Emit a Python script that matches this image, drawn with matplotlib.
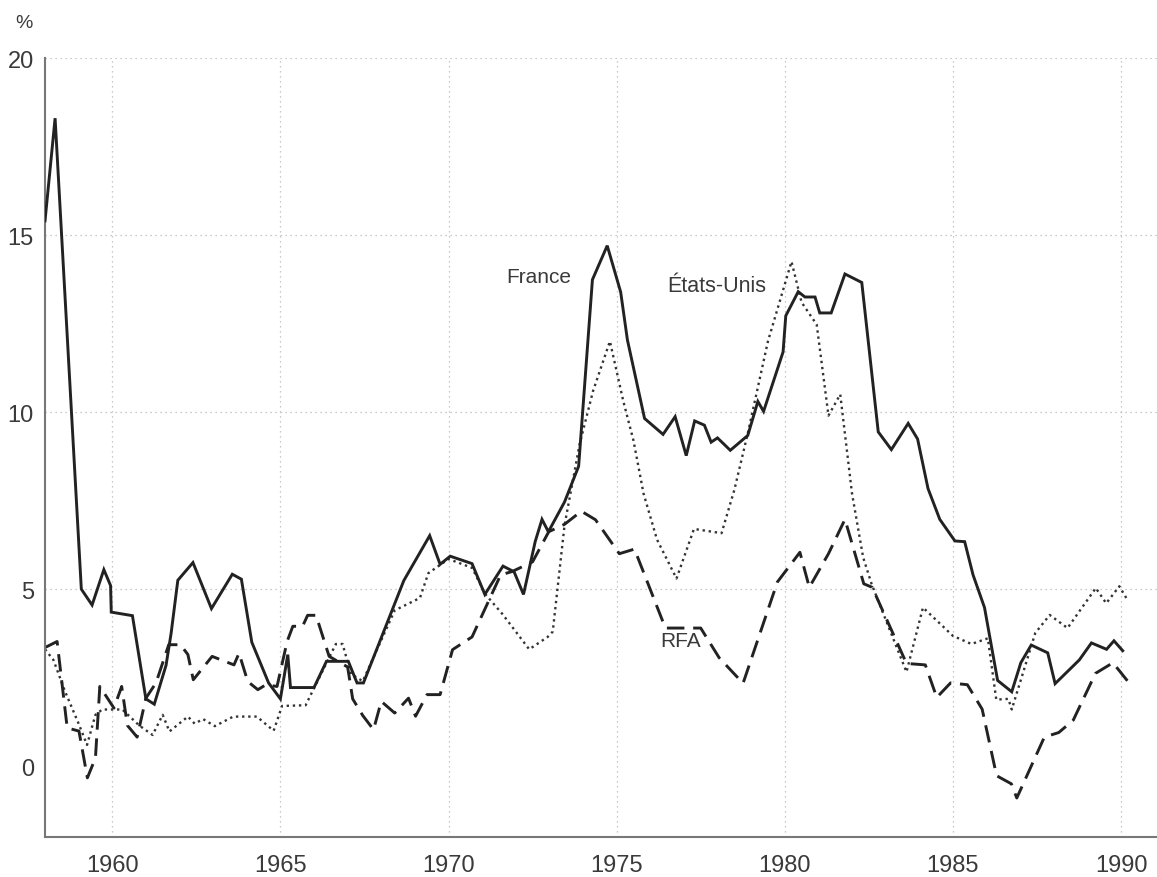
import matplotlib
matplotlib.use("Agg")
import matplotlib.pyplot as plt

plt.rcParams['font.family'] = ['Liberation Sans', 'DejaVu Sans']

# ---- data ----
france_years = [1958.0, 1958.3, 1959.08, 1959.4, 1959.75, 1959.95, 1959.97, 1960.6, 1961.0, 1961.25,
                1961.6, 1961.75, 1961.95, 1962.4, 1962.95, 1963.57, 1963.84, 1964.15, 1964.65, 1965.0,
                1965.22, 1965.3, 1966.0, 1966.37, 1967.02, 1967.28, 1967.47, 1968.67, 1969.44, 1969.75,
                1970.05, 1970.7, 1971.08, 1971.62, 1971.95, 1972.23, 1972.58, 1972.78, 1972.97, 1973.45,
                1973.87, 1974.28, 1974.72, 1975.12, 1975.32, 1975.83, 1976.38, 1976.74, 1977.07, 1977.32,
                1977.61, 1977.81, 1978.0, 1978.38, 1978.9, 1979.2, 1979.37, 1979.95, 1980.03, 1980.4,
                1980.6, 1980.9, 1981.04, 1981.38, 1981.79, 1982.29, 1982.78, 1983.17, 1983.67, 1983.95,
                1984.26, 1984.61, 1985.06, 1985.35, 1985.6, 1985.94, 1986.33, 1986.75, 1987.02, 1987.33,
                1987.82, 1988.04, 1988.76, 1989.12, 1989.57, 1989.79, 1990.05]
france_values = [15.4, 18.3, 5.0, 4.55, 5.55, 5.1, 4.35, 4.25, 1.9, 1.75,
                 2.85, 3.75, 5.25, 5.75, 4.45, 5.42, 5.28, 3.5, 2.35, 1.9,
                 3.15, 2.22, 2.22, 2.96, 2.96, 2.35, 2.35, 5.24, 6.51, 5.7,
                 5.93, 5.72, 4.85, 5.65, 5.49, 4.85, 6.35, 6.97, 6.62, 7.46,
                 8.47, 13.74, 14.7, 13.39, 12.04, 9.82, 9.37, 9.87, 8.77, 9.75,
                 9.63, 9.15, 9.27, 8.92, 9.34, 10.3, 10.02, 11.7, 12.72, 13.4,
                 13.25, 13.25, 12.8, 12.8, 13.9, 13.66, 9.44, 8.94, 9.68, 9.24,
                 7.84, 6.97, 6.36, 6.34, 5.4, 4.48, 2.42, 2.1, 2.92, 3.42,
                 3.2, 2.33, 3.0, 3.48, 3.3, 3.54, 3.26]

usa_years = [1958.0, 1958.25, 1958.6, 1959.0, 1959.25, 1959.5, 1959.7, 1960.3, 1960.8, 1961.2,
             1961.5, 1961.7, 1962.25, 1962.45, 1962.7, 1963.05, 1963.6, 1964.3, 1964.8, 1965.05,
             1965.75, 1966.0, 1966.65, 1966.85, 1967.1, 1967.45, 1968.4, 1969.15, 1969.4, 1969.7,
             1970.0, 1970.7, 1971.1, 1971.6, 1972.0, 1972.4, 1972.95, 1973.1, 1973.45, 1973.9,
             1974.3, 1974.8, 1975.2, 1975.5, 1975.8, 1976.2, 1976.78, 1977.3, 1978.12, 1978.5,
             1978.9, 1979.5, 1980.2, 1980.5, 1980.95, 1981.3, 1981.65, 1982.0, 1982.33, 1982.58,
             1983.08, 1983.62, 1984.11, 1985.0, 1985.55, 1986.04, 1986.29, 1986.65, 1986.75, 1987.45,
             1987.88, 1988.41, 1989.25, 1989.56, 1989.95, 1990.2]
usa_values = [3.3, 3.0, 2.1, 1.2, 0.6, 1.45, 1.6, 1.6, 1.15, 0.88,
              1.45, 0.98, 1.4, 1.2, 1.33, 1.13, 1.4, 1.4, 1.0, 1.7,
              1.72, 2.2, 3.45, 3.45, 2.6, 2.4, 4.4, 4.75, 5.45, 5.65,
              5.85, 5.6, 4.85, 4.3, 3.8, 3.3, 3.65, 3.8, 6.8, 9.1,
              10.6, 12.0, 10.3, 9.2, 7.7, 6.4, 5.3, 6.7, 6.58, 7.8,
              9.4, 12.0, 14.25, 13.1, 12.47, 9.9, 10.5, 7.7, 5.9, 5.15,
              3.95, 2.66, 4.48, 3.68, 3.45, 3.61, 1.88, 1.9, 1.6, 3.76,
              4.27, 3.9, 5.03, 4.6, 5.08, 4.68]

rfa_years = [1958.0, 1958.36, 1958.66, 1959.01, 1959.26, 1959.5, 1959.63, 1960.05, 1960.28, 1960.45,
             1960.74, 1961.0, 1961.3, 1961.68, 1962.03, 1962.25, 1962.41, 1962.97, 1963.62, 1963.77,
             1964.03, 1964.33, 1964.57, 1964.9, 1965.2, 1965.37, 1965.66, 1965.81, 1966.06, 1966.45,
             1967.0, 1967.15, 1967.45, 1967.77, 1968.0, 1968.4, 1968.81, 1969.02, 1969.36, 1969.75,
             1970.12, 1970.7, 1971.55, 1971.9, 1972.5, 1972.98, 1973.45, 1973.95, 1974.37, 1975.08,
             1975.53, 1976.45, 1977.5, 1978.05, 1978.76, 1979.78, 1980.45, 1980.73, 1981.3, 1981.79,
             1982.35, 1982.6, 1983.62, 1984.18, 1984.52, 1984.93, 1985.43, 1985.87, 1986.3, 1986.74,
             1986.9, 1987.72, 1988.15, 1988.58, 1989.24, 1989.76, 1990.35]
rfa_values = [3.35, 3.52, 1.08, 0.99, -0.33, 0.23, 2.25, 1.64, 2.25, 1.15,
              0.82, 1.92, 2.35, 3.43, 3.43, 3.15, 2.44, 3.1, 2.86, 3.19,
              2.39, 2.16, 2.3, 2.25, 3.52, 3.95, 3.95, 4.26, 4.26, 3.1,
              2.8, 1.9, 1.43, 1.03, 1.83, 1.5, 1.92, 1.41, 2.02, 2.02,
              3.29, 3.65, 5.4, 5.5, 5.77, 6.62, 6.83, 7.2, 6.96, 6.0,
              6.13, 3.9, 3.9, 3.06, 2.34, 5.2, 6.04, 5.05, 6.0, 6.97,
              5.15, 5.05, 2.9, 2.86, 1.94, 2.35, 2.3, 1.61, -0.27, -0.5,
              -0.9, 0.82, 0.95, 1.3, 2.62, 2.92, 2.22]

x_ticks = [1960, 1965, 1970, 1975, 1980, 1985, 1990]
y_ticks = [0, 5, 10, 15, 20]
y_grid = [5, 10, 15, 20]

# ---- figure ----
fig = plt.figure(figsize=(11.57, 8.78), dpi=100)
ax = fig.add_axes([0.0389, 0.0456, 0.9611, 0.8872])

txt = '#3a3a3a'
grid_kw = dict(color='#b8b8b8', lw=0.9, ls=(0, (1, 3)), zorder=0)
for xv in x_ticks:
    ax.axvline(xv, **grid_kw)
for yv in y_grid:
    ax.axhline(yv, **grid_kw)

ax.plot(france_years, france_values, color='#222222', lw=2.1, solid_joinstyle='miter', zorder=3)
ax.plot(usa_years, usa_values, color='#333333', lw=1.7, ls=(0, (1, 1.6)), zorder=2)
ax.plot(rfa_years, rfa_values, color='#222222', lw=2.1, ls=(0, (6, 3)), zorder=2)

ax.set_xlim(1958.0, 1991.07)
ax.set_ylim(-2, 20)
ax.set_xticks(x_ticks)
ax.set_yticks(y_ticks)
ax.tick_params(axis='both', length=0, labelsize=17, labelcolor=txt)
ax.tick_params(axis='x', pad=12)
ax.tick_params(axis='y', pad=8)

for s in ['top', 'right']:
    ax.spines[s].set_visible(False)
for s in ['left', 'bottom']:
    ax.spines[s].set_color('#777777')
    ax.spines[s].set_linewidth(1.5)

ax.text(1972.67, 13.82, 'France', fontsize=15, color=txt, ha='center', va='center')
ax.text(1977.99, 13.57, 'États-Unis', fontsize=15.5, color=txt, ha='center', va='center')
ax.text(1976.89, 3.55, 'RFA', fontsize=15, color=txt, ha='center', va='center')

fig.text(24 / 1157, 1 - 24 / 878, '%', fontsize=14, color=txt, ha='center', va='center')

fig.savefig('out.png', dpi=100)
